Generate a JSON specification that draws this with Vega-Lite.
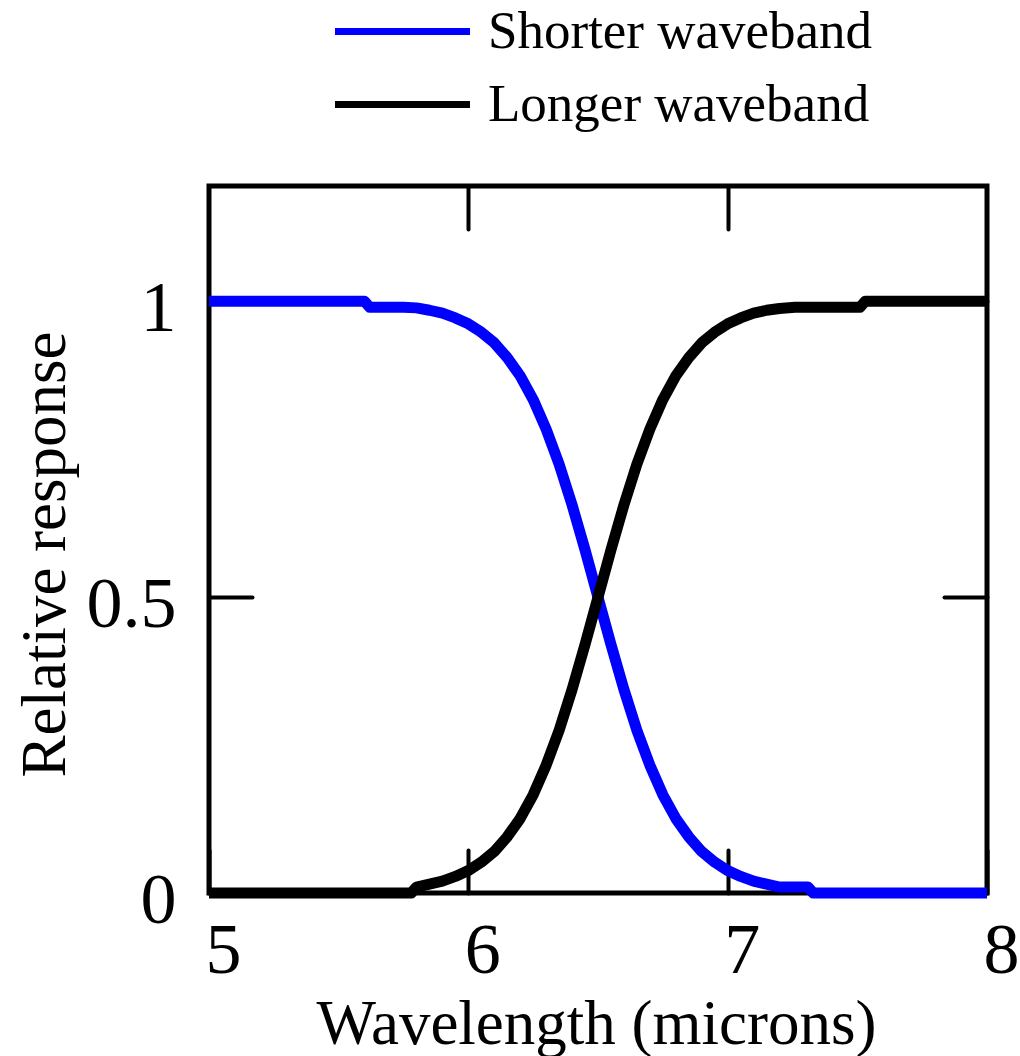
{
  "$schema": "https://vega.github.io/schema/vega-lite/v6.json",
  "autosize": "none",
  "width": 778,
  "height": 707,
  "padding": {"left": 209, "top": 186, "right": 33, "bottom": 163},
  "background": "white",
  "config": {
    "view": {"stroke": "black", "strokeWidth": 5},
    "axis": {
      "domain": false,
      "grid": false,
      "tickColor": "black",
      "tickWidth": 4,
      "tickCap": "round",
      "tickSize": -43,
      "labelFont": "Liberation Serif",
      "labelFontSize": 72,
      "labelColor": "black",
      "labelFlush": false,
      "labelOverlap": false,
      "labelBound": false,
      "titleFont": "Liberation Serif",
      "titleFontSize": 63,
      "titleFontWeight": "normal",
      "titleColor": "black"
    }
  },
  "data": {"values": [
    {"w": 5.0, "r": 1, "band": "Shorter waveband"},
    {"w": 5.6, "r": 1, "band": "Shorter waveband"},
    {"w": 5.62, "r": 0.99, "band": "Shorter waveband"},
    {"w": 5.75, "r": 0.99, "band": "Shorter waveband"},
    {"w": 5.8, "r": 0.989, "band": "Shorter waveband"},
    {"w": 5.85, "r": 0.985, "band": "Shorter waveband"},
    {"w": 5.9, "r": 0.98, "band": "Shorter waveband"},
    {"w": 5.95, "r": 0.972, "band": "Shorter waveband"},
    {"w": 6.0, "r": 0.962, "band": "Shorter waveband"},
    {"w": 6.05, "r": 0.948, "band": "Shorter waveband"},
    {"w": 6.1, "r": 0.93, "band": "Shorter waveband"},
    {"w": 6.15, "r": 0.905, "band": "Shorter waveband"},
    {"w": 6.2, "r": 0.874, "band": "Shorter waveband"},
    {"w": 6.25, "r": 0.834, "band": "Shorter waveband"},
    {"w": 6.3, "r": 0.784, "band": "Shorter waveband"},
    {"w": 6.35, "r": 0.725, "band": "Shorter waveband"},
    {"w": 6.4, "r": 0.656, "band": "Shorter waveband"},
    {"w": 6.45, "r": 0.58, "band": "Shorter waveband"},
    {"w": 6.5, "r": 0.5, "band": "Shorter waveband"},
    {"w": 6.55, "r": 0.42, "band": "Shorter waveband"},
    {"w": 6.6, "r": 0.344, "band": "Shorter waveband"},
    {"w": 6.65, "r": 0.275, "band": "Shorter waveband"},
    {"w": 6.7, "r": 0.216, "band": "Shorter waveband"},
    {"w": 6.75, "r": 0.166, "band": "Shorter waveband"},
    {"w": 6.8, "r": 0.126, "band": "Shorter waveband"},
    {"w": 6.85, "r": 0.095, "band": "Shorter waveband"},
    {"w": 6.9, "r": 0.07, "band": "Shorter waveband"},
    {"w": 6.95, "r": 0.052, "band": "Shorter waveband"},
    {"w": 7.0, "r": 0.038, "band": "Shorter waveband"},
    {"w": 7.05, "r": 0.028, "band": "Shorter waveband"},
    {"w": 7.1, "r": 0.02, "band": "Shorter waveband"},
    {"w": 7.15, "r": 0.015, "band": "Shorter waveband"},
    {"w": 7.2, "r": 0.01, "band": "Shorter waveband"},
    {"w": 7.31, "r": 0.01, "band": "Shorter waveband"},
    {"w": 7.33, "r": 0, "band": "Shorter waveband"},
    {"w": 8.0, "r": 0, "band": "Shorter waveband"},
    {"w": 5.0, "r": 0, "band": "Longer waveband"},
    {"w": 5.78, "r": 0, "band": "Longer waveband"},
    {"w": 5.8, "r": 0.01, "band": "Longer waveband"},
    {"w": 5.85, "r": 0.015, "band": "Longer waveband"},
    {"w": 5.9, "r": 0.02, "band": "Longer waveband"},
    {"w": 5.95, "r": 0.028, "band": "Longer waveband"},
    {"w": 6.0, "r": 0.038, "band": "Longer waveband"},
    {"w": 6.05, "r": 0.052, "band": "Longer waveband"},
    {"w": 6.1, "r": 0.07, "band": "Longer waveband"},
    {"w": 6.15, "r": 0.095, "band": "Longer waveband"},
    {"w": 6.2, "r": 0.126, "band": "Longer waveband"},
    {"w": 6.25, "r": 0.166, "band": "Longer waveband"},
    {"w": 6.3, "r": 0.216, "band": "Longer waveband"},
    {"w": 6.35, "r": 0.275, "band": "Longer waveband"},
    {"w": 6.4, "r": 0.344, "band": "Longer waveband"},
    {"w": 6.45, "r": 0.42, "band": "Longer waveband"},
    {"w": 6.5, "r": 0.5, "band": "Longer waveband"},
    {"w": 6.55, "r": 0.58, "band": "Longer waveband"},
    {"w": 6.6, "r": 0.656, "band": "Longer waveband"},
    {"w": 6.65, "r": 0.725, "band": "Longer waveband"},
    {"w": 6.7, "r": 0.784, "band": "Longer waveband"},
    {"w": 6.75, "r": 0.834, "band": "Longer waveband"},
    {"w": 6.8, "r": 0.874, "band": "Longer waveband"},
    {"w": 6.85, "r": 0.905, "band": "Longer waveband"},
    {"w": 6.9, "r": 0.93, "band": "Longer waveband"},
    {"w": 6.95, "r": 0.948, "band": "Longer waveband"},
    {"w": 7.0, "r": 0.962, "band": "Longer waveband"},
    {"w": 7.05, "r": 0.972, "band": "Longer waveband"},
    {"w": 7.1, "r": 0.98, "band": "Longer waveband"},
    {"w": 7.15, "r": 0.985, "band": "Longer waveband"},
    {"w": 7.2, "r": 0.988, "band": "Longer waveband"},
    {"w": 7.26, "r": 0.99, "band": "Longer waveband"},
    {"w": 7.51, "r": 0.99, "band": "Longer waveband"},
    {"w": 7.53, "r": 1, "band": "Longer waveband"},
    {"w": 8.0, "r": 1, "band": "Longer waveband"}
  ]},
  "layer": [
    {
      "mark": {"type": "line", "strokeWidth": 11, "strokeJoin": "round", "strokeCap": "butt", "clip": false},
      "encoding": {
        "x": {"field": "w", "type": "quantitative", "scale": {"domain": [5, 8], "nice": false, "zero": false},
          "axis": {"orient": "bottom", "values": [5, 6, 7, 8], "labelPadding": 65, "labelOffset": 14, "labelBaseline": "top",
            "title": "Wavelength (microns)", "titleX": 387, "titleY": 150, "titleBaseline": "alphabetic", "titleAlign": "center", "titleAnchor": null}},
        "y": {"field": "r", "type": "quantitative", "scale": {"domain": [0, 1.195], "nice": false, "zero": false},
          "axis": {"orient": "left", "values": [0, 0.5, 1], "format": "~g", "labelPadding": 76, "labelOffset": 7,
            "title": "Relative response", "titleX": -145, "titleY": 368, "titleAngle": -90, "titleBaseline": "alphabetic", "titleAlign": "center", "titleAnchor": null}},
        "color": {"field": "band", "type": "nominal", "sort": ["Shorter waveband", "Longer waveband"],
          "scale": {"domain": ["Shorter waveband", "Longer waveband"], "range": ["#0000ff", "#000000"]},
          "legend": {"orient": "none", "legendX": 167, "legendY": -181, "title": null, "padding": 0,
            "symbolType": "M-4,0H4", "symbolSize": 1139, "symbolStrokeWidth": 7, "symbolFillColor": "transparent", "rowPadding": 19,
            "labelFont": "Liberation Serif", "labelFontSize": 53, "labelColor": "black", "labelOffset": 59, "labelLimit": 0}}
      }
    },
    {
      "mark": {"type": "line", "opacity": 0, "strokeWidth": 0},
      "encoding": {
        "x": {"field": "w", "type": "quantitative",
          "axis": {"orient": "top", "values": [6, 7], "labels": false, "title": null}},
        "y": {"field": "r", "type": "quantitative",
          "axis": {"orient": "right", "values": [0.5, 1], "labels": false, "title": null}},
        "detail": {"field": "band"}
      }
    }
  ],
  "resolve": {"axis": {"x": "independent", "y": "independent"}}
}
